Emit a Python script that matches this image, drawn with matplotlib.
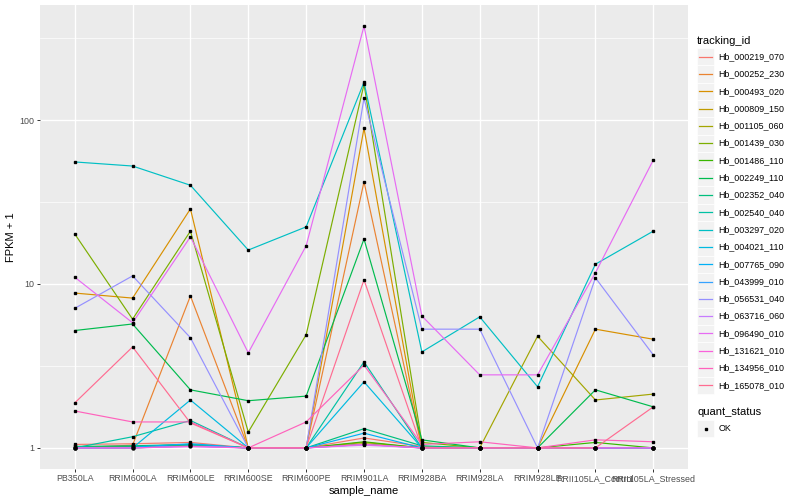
import matplotlib
matplotlib.use("Agg")
import matplotlib.pyplot as plt
from matplotlib.patches import Rectangle
from matplotlib.lines import Line2D
import numpy as np

samples = ["PB350LA", "RRIM600LA", "RRIM600LE", "RRIM600SE", "RRIM600PE",
           "RRIM901LA", "RRIM928BA", "RRIM928LA", "RRIM928LE",
           "RRII105LA_Control", "RRII105LA_Stressed"]

tracking_ids = ["Hb_000219_070", "Hb_000252_230", "Hb_000493_020", "Hb_000809_150",
                "Hb_001105_060", "Hb_001439_030", "Hb_001486_110", "Hb_002249_110",
                "Hb_002352_040", "Hb_002540_040", "Hb_003297_020", "Hb_004021_110",
                "Hb_007765_090", "Hb_043999_010", "Hb_056531_040", "Hb_063716_060",
                "Hb_096490_010", "Hb_131621_010", "Hb_134956_010", "Hb_165078_010"]

# FPKM + 1 values per tracking id (one value per sample)
hb_000219_070 = [1.05, 1.06, 1.08, 1.0, 1.0, 1.15, 1.02, 1.0, 1.0, 1.0, 1.0]
hb_000252_230 = [1.0, 1.04, 8.45, 1.0, 1.0, 42.0, 1.0, 1.0, 1.0, 1.0, 1.0]
hb_000493_020 = [8.8, 8.2, 28.7, 1.0, 1.0, 89.0, 1.0, 1.0, 1.0, 5.3, 4.6]
hb_000809_150 = [1.02, 1.02, 1.05, 1.0, 1.0, 1.08, 1.0, 1.0, 1.0, 1.0, 1.0]
hb_001105_060 = [1.0, 1.0, 1.03, 1.0, 1.0, 1.06, 1.0, 1.0, 4.8, 1.96, 2.13]
hb_001439_030 = [20.2, 6.1, 21.0, 1.25, 4.9, 165.0, 1.08, 1.0, 1.0, 1.0, 1.0]
hb_001486_110 = [1.0, 1.02, 1.04, 1.0, 1.0, 1.09, 1.0, 1.0, 1.0, 1.08, 1.0]
hb_002249_110 = [5.2, 5.7, 2.26, 1.94, 2.07, 18.8, 1.12, 1.0, 1.0, 2.26, 1.78]
hb_002352_040 = [1.02, 1.03, 1.05, 1.0, 1.0, 1.31, 1.03, 1.0, 1.0, 1.0, 1.0]
hb_002540_040 = [1.0, 1.17, 1.47, 1.0, 1.0, 3.35, 1.0, 1.0, 1.0, 1.0, 1.0]
hb_003297_020 = [55.5, 52.4, 40.0, 16.1, 22.3, 170.0, 3.85, 6.3, 2.36, 13.2, 21.0]
hb_004021_110 = [1.0, 1.0, 1.96, 1.0, 1.0, 2.53, 1.0, 1.0, 1.0, 1.0, 1.0]
hb_007765_090 = [1.0, 1.01, 1.06, 1.0, 1.0, 1.23, 1.0, 1.0, 1.0, 1.0, 1.0]
hb_043999_010 = [1.0, 1.0, 1.03, 1.0, 1.0, 1.05, 1.0, 1.0, 1.0, 1.0, 1.0]
hb_056531_040 = [7.1, 11.2, 4.7, 1.0, 1.0, 136.0, 5.3, 5.3, 1.0, 10.9, 3.69]
hb_063716_060 = [1.0, 1.0, 1.02, 1.0, 1.0, 1.04, 1.0, 1.0, 1.0, 1.0, 1.0]
hb_096490_010 = [11.0, 5.8, 19.4, 3.8, 17.1, 374.0, 6.38, 2.79, 2.79, 11.7, 57.0]
hb_131621_010 = [1.0, 1.0, 1.02, 1.0, 1.0, 1.05, 1.0, 1.0, 1.0, 1.0, 1.0]
hb_134956_010 = [1.68, 1.44, 1.44, 1.0, 1.44, 3.2, 1.05, 1.09, 1.0, 1.12, 1.09]
hb_165078_010 = [1.88, 4.13, 1.42, 1.0, 1.0, 10.6, 1.0, 1.0, 1.0, 1.0, 1.78]

series = [hb_000219_070, hb_000252_230, hb_000493_020, hb_000809_150, hb_001105_060,
          hb_001439_030, hb_001486_110, hb_002249_110, hb_002352_040, hb_002540_040,
          hb_003297_020, hb_004021_110, hb_007765_090, hb_043999_010, hb_056531_040,
          hb_063716_060, hb_096490_010, hb_131621_010, hb_134956_010, hb_165078_010]

colors = ["#F8766D", "#EA8331", "#D89000", "#C09B00", "#A3A500", "#7CAE00", "#39B600",
          "#00BB4E", "#00BF7D", "#00C1A3", "#00BFC4", "#00BAE0", "#00B0F6", "#35A2FF",
          "#9590FF", "#C77CFF", "#E76BF3", "#FA62DB", "#FF62BC", "#FF6C91"]

status_labels = ["OK"]

plt.rcParams['font.family'] = ['Liberation Sans', 'DejaVu Sans']

W, H = 800, 500
fig = plt.figure(figsize=(W / 100, H / 100), dpi=100)

def fx(px):
    return px / W

def fy(py):
    return 1 - py / H

p_left, p_right, p_top, p_bot = 40, 688, 5, 469
ax = fig.add_axes([fx(p_left), fy(p_bot), fx(p_right - p_left), (p_bot - p_top) / H])
ax.set_facecolor("#EBEBEB")
for s in ax.spines.values():
    s.set_visible(False)

x = np.arange(len(samples))
for vals, col in zip(series, colors):
    ax.plot(x, vals, color=col, lw=0.85, solid_capstyle='butt', zorder=3)
for vals in series:
    ax.plot(x, vals, ls='none', marker='s', ms=2.1, color='black', zorder=4)

ax.set_yscale('log')
allv = np.log10(np.concatenate([np.array(v) for v in series]))
lo, hi = allv.min(), allv.max()
pad = 0.05 * (hi - lo)
ax.set_ylim(10 ** (lo - pad), 10 ** (hi + pad))
ax.set_xlim(-0.6, len(samples) - 1 + 0.6)

ax.set_yticks([1, 10, 100])
ax.set_yticklabels(["1", "10", "100"])
ax.set_yticks([10 ** 0.5, 10 ** 1.5, 10 ** 2.5], minor=True)
ax.yaxis.set_minor_formatter(matplotlib.ticker.NullFormatter())
ax.set_xticks(x)
ax.set_xticklabels(samples)
ax.set_xticks([], minor=True)

ax.grid(which='major', color='white', lw=1.0, zorder=0)
ax.grid(which='minor', axis='y', color='white', lw=0.5, zorder=0)
ax.set_axisbelow(True)
ax.tick_params(which='major', length=2.0, width=0.7, color='#333333',
               labelcolor='#4D4D4D', labelsize=6.4, pad=1.8)
ax.tick_params(which='minor', length=0)

ax.set_xlabel("sample_name", fontsize=8.0, color='black', labelpad=2)
ax.set_ylabel("FPKM + 1", fontsize=8.0, color='black', labelpad=3)

# legend: tracking_id
lx = 697
fig.text(fx(lx), fy(41), "tracking_id", fontsize=8.0, va='center', ha='left')
key = 17.3
y0 = 48
for i, (tid, col) in enumerate(zip(tracking_ids, colors)):
    yt = y0 + i * key
    fig.add_artist(Rectangle((fx(lx), fy(yt + key)), fx(key), key / H,
                             transform=fig.transFigure, facecolor='#F2F2F2',
                             edgecolor='white', lw=0.5))
    yc = yt + key / 2
    fig.add_artist(Line2D([fx(lx + 2), fx(lx + key - 2)], [fy(yc), fy(yc)],
                          transform=fig.transFigure, color=col, lw=0.9))
    fig.text(fx(lx + key + 4), fy(yc), tid, fontsize=6.4, va='center', ha='left')

# legend: quant_status
fig.text(fx(lx), fy(412), "quant_status", fontsize=8.0, va='center', ha='left')
for i, lab in enumerate(status_labels):
    yt = 420 + i * key
    fig.add_artist(Rectangle((fx(lx), fy(yt + key)), fx(key), key / H,
                             transform=fig.transFigure, facecolor='#F2F2F2',
                             edgecolor='white', lw=0.5))
    yc = yt + key / 2
    fig.add_artist(Line2D([fx(lx + key / 2)], [fy(yc)], transform=fig.transFigure,
                          marker='s', ms=2.1, color='black', ls='none'))
    fig.text(fx(lx + key + 4), fy(yc), lab, fontsize=6.4, va='center', ha='left')

fig.savefig("out.png", dpi=100, facecolor='white')
